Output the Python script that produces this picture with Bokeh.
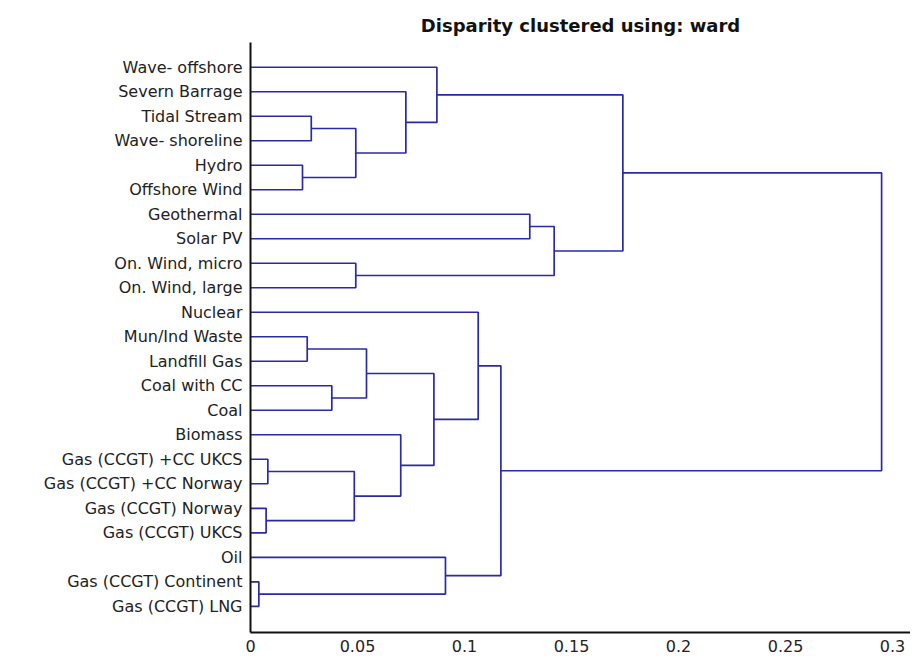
from bokeh.plotting import figure
from bokeh.models import Range1d, FixedTicker, ColumnDataSource
from bokeh.embed import file_html
from bokeh.resources import INLINE

# Leaves, top to bottom
leaves = [
    "Wave- offshore", "Severn Barrage", "Tidal Stream", "Wave- shoreline",
    "Hydro", "Offshore Wind", "Geothermal", "Solar PV",
    "On. Wind, micro", "On. Wind, large", "Nuclear", "Mun/Ind Waste",
    "Landfill Gas", "Coal with CC", "Coal", "Biomass",
    "Gas (CCGT) +CC UKCS", "Gas (CCGT) +CC Norway", "Gas (CCGT) Norway",
    "Gas (CCGT) UKCS", "Oil", "Gas (CCGT) Continent", "Gas (CCGT) LNG",
]

# Merges: child ids (0..22 leaves, 23+ earlier merges in order) and heights
merge_left = [21, 18, 16, 4, 11, 2, 13, 8, 25, 28, 27, 1, 15, 33, 0, 20, 10, 39, 6, 41, 37, 43]
merge_right = [22, 19, 17, 5, 12, 3, 14, 9, 24, 26, 29, 32, 31, 35, 34, 23, 36, 38, 7, 30, 42, 40]
merge_height = [0.0039, 0.0073, 0.0081, 0.0243, 0.0265, 0.0284, 0.038, 0.0492,
                0.0485, 0.0492, 0.0542, 0.0726, 0.0702, 0.0857, 0.0871, 0.0911,
                0.1064, 0.117, 0.1305, 0.1419, 0.174, 0.2949]

tick_values = [0, 0.05, 0.1, 0.15, 0.2, 0.25, 0.3]
tick_labels = ["0", "0.05", "0.1", "0.15", "0.2", "0.25", "0.3"]

n = len(leaves)
pos = {i: float(i) for i in range(n)}
hgt = {i: 0.0 for i in range(n)}
xs, ys = [], []
for k, (a, b, h) in enumerate(zip(merge_left, merge_right, merge_height)):
    node = n + k
    ya, yb = pos[a], pos[b]
    xs.append([hgt[a], h, h, hgt[b]])
    ys.append([ya, ya, yb, yb])
    pos[node] = (ya + yb) / 2.0
    hgt[node] = h

p = figure(width=910, height=658, output_backend="svg", toolbar_location=None,
           x_range=Range1d(0, 0.3084), y_range=Range1d(23.07, -1.01),
           min_border_left=250, min_border_right=0, min_border_top=42,
           min_border_bottom=26,
           title="Disparity clustered using: ward")
p.title.align = "center"
p.title.text_font = "DejaVu Sans"
p.title.text_font_size = "18px"
p.title.text_font_style = "bold"
p.title.text_color = "#111111"
p.title.standoff = 13

src = ColumnDataSource(dict(xs=xs, ys=ys))
p.multi_line("xs", "ys", source=src, line_color="#2a2aa6", line_width=1.7)

p.xgrid.visible = False
p.ygrid.visible = False
p.outline_line_color = None
p.background_fill_color = "white"

for ax in (p.xaxis, p.yaxis):
    ax.axis_line_color = "#111111"
    ax.axis_line_width = 2
    ax.major_tick_line_color = None
    ax.minor_tick_line_color = None
    ax.major_tick_out = 0
    ax.major_tick_in = 0
    ax.major_label_text_font = "DejaVu Sans"
    ax.major_label_text_font_size = "16px"
    ax.major_label_text_color = "#222222"

p.xaxis.ticker = FixedTicker(ticks=tick_values)
p.xaxis.major_label_overrides = {v: t for v, t in zip(tick_values, tick_labels)}
p.xaxis.major_label_standoff = 7

p.yaxis.ticker = FixedTicker(ticks=list(range(n)))
p.yaxis.major_label_overrides = {i: name for i, name in enumerate(leaves)}
p.yaxis.major_label_standoff = 8

open("out.html", "w").write(file_html(p, INLINE))
